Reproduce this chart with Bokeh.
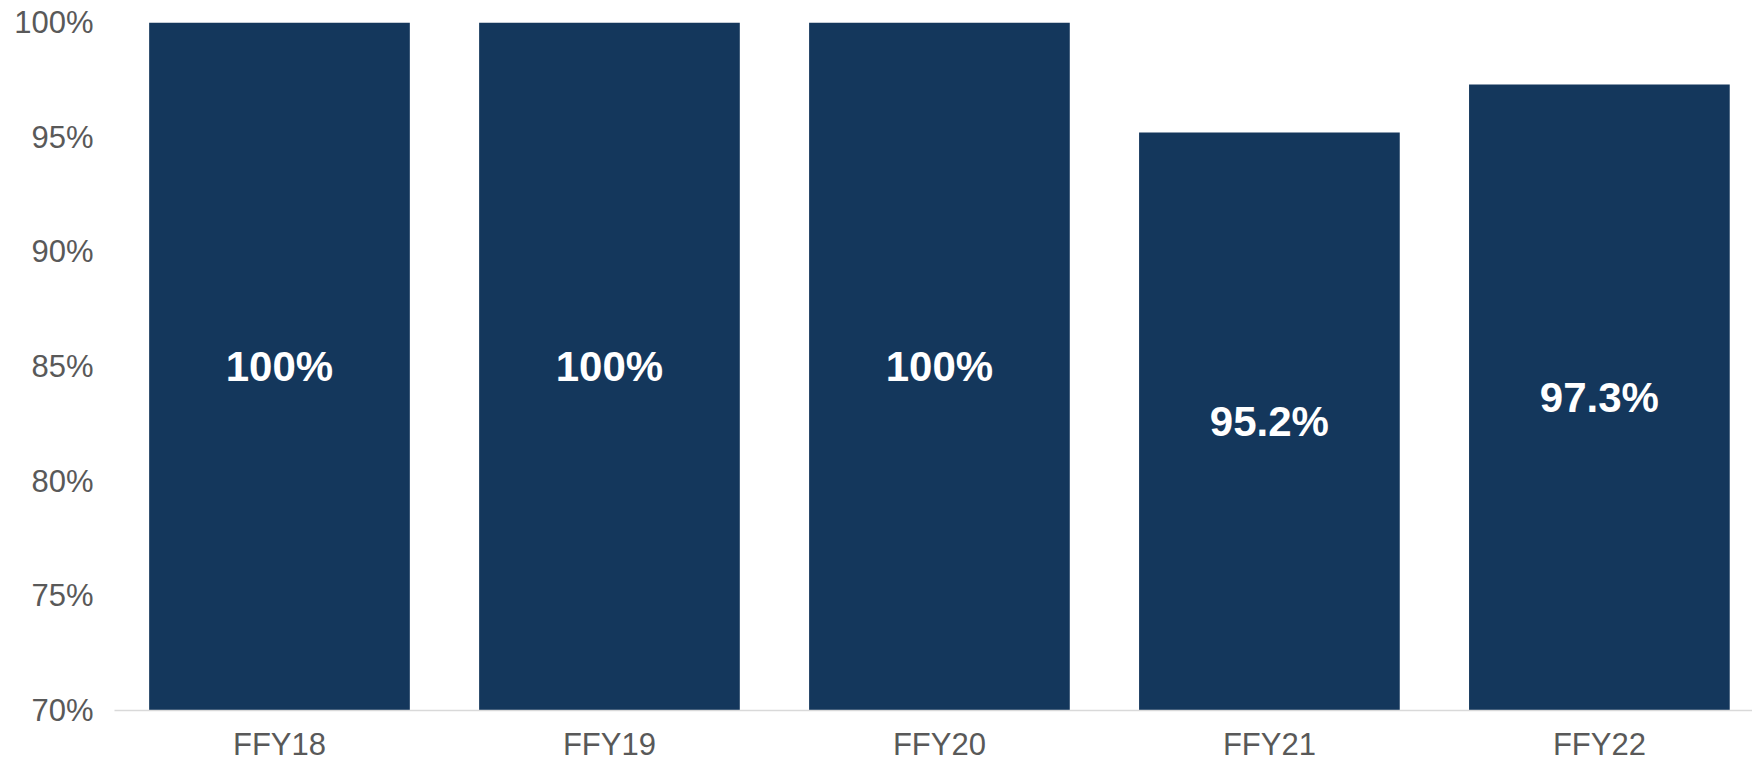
from bokeh.plotting import figure
from bokeh.models import ColumnDataSource, Range1d, FixedTicker, PrintfTickFormatter, LabelSet
from bokeh.core.properties import value
from bokeh.embed import file_html
from bokeh.resources import INLINE

categories = ["FFY18", "FFY19", "FFY20", "FFY21", "FFY22"]
values = [100, 100, 100, 95.2, 97.3]
y_ticks = [70, 75, 80, 85, 90, 95, 100]

Y_MIN, Y_MAX = 70, 100
BAR_COLOR = "#14375C"
TICK_COLOR = "#595959"
FONT = "Liberation Sans"

x_pos = [i + 0.5 for i in range(len(categories))]
labels = [("%d%%" % v) if float(v).is_integer() else ("%.1f%%" % v) for v in values]
label_y = [(Y_MIN + v) / 2 for v in values]

src = ColumnDataSource(dict(x=x_pos, top=values, cat=categories, lab=labels, ly=label_y))

p = figure(width=1752, height=764, output_backend="svg", toolbar_location=None,
           x_range=Range1d(0.0, 4.964), y_range=Range1d(Y_MIN, Y_MAX),
           min_border_left=114, min_border_right=0, min_border_top=22, min_border_bottom=53)

p.vbar(x="x", top="top", bottom=Y_MIN, width=0.79, source=src,
       fill_color=BAR_COLOR, line_color=None)

p.add_layout(LabelSet(x="x", y="ly", text="lab", source=src,
                      text_align="center", text_baseline="middle",
                      text_color="white", text_font=value(FONT), text_font_style="bold",
                      text_font_size="42px"))

p.xgrid.visible = False
p.ygrid.visible = False
p.outline_line_color = None
p.background_fill_color = "white"
p.border_fill_color = "white"

p.xaxis.ticker = FixedTicker(ticks=x_pos)
p.xaxis.major_label_overrides = {x: c for x, c in zip(x_pos, categories)}
p.xaxis.major_tick_line_color = None
p.xaxis.minor_tick_line_color = None
p.xaxis.axis_line_color = "#D9D9D9"
p.xaxis.axis_line_width = 1.5
p.xaxis.major_label_text_font = FONT
p.xaxis.major_label_text_font_size = "31px"
p.xaxis.major_label_text_color = TICK_COLOR
p.xaxis.major_label_standoff = 10

p.yaxis.ticker = FixedTicker(ticks=y_ticks)
p.yaxis.formatter = PrintfTickFormatter(format="%d%%")
p.yaxis.axis_line_color = None
p.yaxis.major_tick_line_color = None
p.yaxis.minor_tick_line_color = None
p.yaxis.major_label_text_font = FONT
p.yaxis.major_label_text_font_size = "31px"
p.yaxis.major_label_text_color = TICK_COLOR
p.yaxis.major_label_standoff = 15

open("out.html", "w").write(file_html(p, INLINE))
